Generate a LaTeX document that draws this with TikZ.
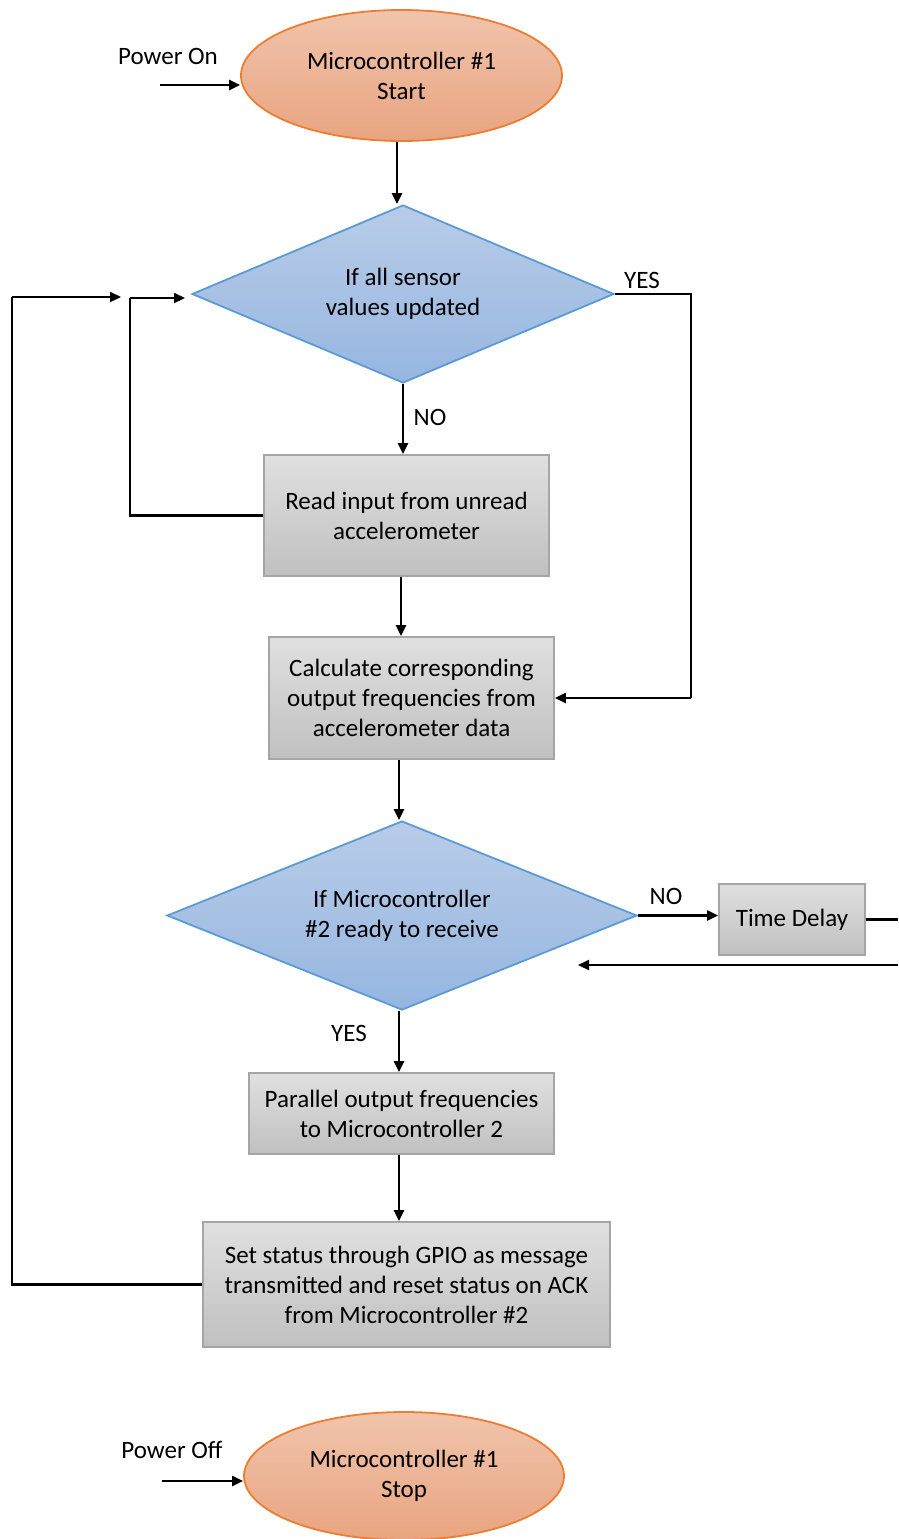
\documentclass[tikz,border=0pt]{standalone}
\usepackage{fontspec}
\setmainfont{Carlito}
\usetikzlibrary{shapes.geometric,arrows.meta}
\definecolor{ovalTop}{RGB}{240,196,172}
\definecolor{ovalBot}{RGB}{233,164,128}
\definecolor{ovalLine}{RGB}{237,125,49}
\definecolor{diaTop}{RGB}{184,204,232}
\definecolor{diaBot}{RGB}{150,182,224}
\definecolor{diaLine}{RGB}{91,155,213}
\definecolor{boxTop}{RGB}{224,224,224}
\definecolor{boxBot}{RGB}{192,192,192}
\definecolor{boxLine}{RGB}{165,165,165}
\tikzset{
  txt/.style={font=\fontsize{25}{30}\selectfont, text=black, align=center},
  oval/.style={txt, ellipse, draw=ovalLine, line width=1.8pt, top color=ovalTop, bottom color=ovalBot, inner sep=0pt},
  dia/.style={txt, diamond, aspect=2.4, draw=diaLine, line width=1.8pt, top color=diaTop, bottom color=diaBot, inner sep=0pt},
  gbox/.style={txt, rectangle, draw=boxLine, line width=1.8pt, top color=boxTop, bottom color=boxBot, inner sep=0pt},
  lbl/.style={font=\fontsize{25}{30}\selectfont, text=black, inner sep=0pt},
  arr/.style={line width=2.2pt, -{Triangle[length=11pt,width=10pt]}},
  ln/.style={line width=2.2pt},
}
\begin{document}
\begin{tikzpicture}[x=1pt,y=-1pt]
\useasboundingbox (0,0) rectangle (898,1539);
% nodes
\node[oval, minimum width=321, minimum height=131] (start) at (401.5,75.5) {Microcontroller \#1\\Start};
\node[dia, minimum width=422, minimum height=178] (d1) at (403,294) {If all sensor\\values updated};
\node[gbox, minimum width=285, minimum height=121] (b1) at (406.5,515.5) {Read input from unread\\accelerometer};
\node[gbox, minimum width=285, minimum height=122] (b2) at (411.5,698) {Calculate corresponding\\output frequencies from\\accelerometer data};
\node[dia, minimum width=470, minimum height=189] (d2) at (402,915.5) {If Microcontroller\\\#2 ready to receive};
\node[gbox, minimum width=146, minimum height=71] (td) at (792,919.5) {Time Delay};
\node[gbox, minimum width=305, minimum height=81] (b3) at (401.5,1113.5) {Parallel output frequencies\\to Microcontroller 2};
\node[gbox, minimum width=407, minimum height=125] (b4) at (406.5,1284.5) {Set status through GPIO as message\\transmitted and reset status on ACK\\from Microcontroller \#2};
\node[oval, minimum width=320, minimum height=128] (stop) at (404,1476) {Microcontroller \#1\\Stop};
% labels
\node[lbl] (lon) at (168,56) {Power On};
\node[lbl] (loff) at (172,1450) {Power Off};
\node[lbl] (lyes1) at (642,280) {YES};
\node[lbl] (lno1) at (430,417) {NO};
\node[lbl] (lno2) at (666,896) {NO};
\node[lbl] (lyes2) at (349,1033) {YES};
% coordinates
\coordinate (pon) at (160,85);
\coordinate (poff) at (162,1481);
\coordinate (c1) at (121,297);
\coordinate (c2) at (185,298);
\coordinate (tdout) at (898,919.5);
\coordinate (retin) at (898,965);
\coordinate (retout) at (578,965);
% connectors
\draw[arr] (pon) -- (pon -| start.west);
\draw[arr] (poff) -- (poff -| stop.west);
\draw[arr] (start.south -| 397,0) -- (d1.north -| 397,0);
\draw[arr] (d1.south) -- (b1.north -| d1.south);
\draw[ln] (d1.east) -- (691,294) -- (691,698);
\draw[arr] (691,698) -- (b2.east);
\draw[ln] (b1.west) -- (130,515.5) -- (130,298);
\draw[arr] (130,298) -- (c2);
\draw[ln] (b4.west) -- (12,1284.5) -- (12,297);
\draw[arr] (12,297) -- (c1);
\draw[arr] (b1.south -| 401,0) -- (b2.north -| 401,0);
\draw[arr] (b2.south -| 399,0) -- (d2.north -| 399,0);
\draw[arr] (d2.east) -- (td.west |- d2.east);
\draw[ln] (td.east) -- (tdout);
\draw[arr] (retin) -- (retout);
\draw[arr] (d2.south -| 399,0) -- (b3.north -| 399,0);
\draw[arr] (b3.south -| 399,0) -- (b4.north -| 399,0);
\end{tikzpicture}
\end{document}
